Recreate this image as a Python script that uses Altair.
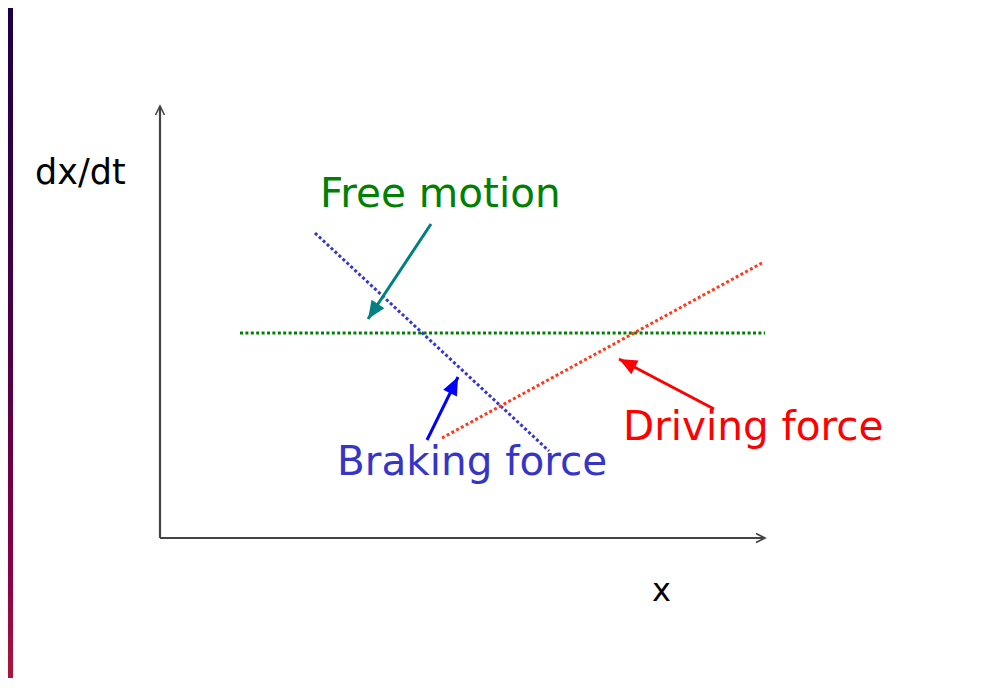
import math
import altair as alt
import pandas as pd

# ---- data (diagram units; origin = axes origin) ----
x_axis = {"x": [0.0, 12.1], "y": [0.0, 0.0]}
y_axis = {"x": [0.0, 0.0], "y": [0.0, 8.64]}

free_motion_line = {"x": [1.6, 12.1], "y": [4.1, 4.1]}
braking_line = {"x": [3.1, 7.78], "y": [6.1, 1.74]}
driving_line = {"x": [5.64, 12.04], "y": [2.0, 5.5]}

# arrows: tail -> tip
free_arrow = {"x": [5.42, 4.16], "y": [6.28, 4.38]}
braking_arrow = {"x": [5.34, 5.96], "y": [1.96, 3.22]}
driving_arrow = {"x": [11.08, 9.18], "y": [2.58, 3.58]}

labels = ["dx/dt", "x", "Free motion", "Braking force", "Driving force"]
label_x = [-2.5, 9.84, 3.2, 3.54, 9.26]
label_y = [7.08, -1.26, 6.62, 1.26, 1.96]

# ---- layout ----
W, H = 968, 670
PX = 50.0  # pixels per unit
XDOM = [-152 / PX, (W - 152) / PX]
YDOM = [(-H + 530) / PX, 530 / PX]

X = alt.X("x:Q", scale=alt.Scale(domain=XDOM, nice=False, zero=False), axis=None)
Y = alt.Y("y:Q", scale=alt.Scale(domain=YDOM, nice=False, zero=False), axis=None)

HEAD = "M0,0L-0.85,2L0.85,2Z"
CHEVRON = "M-1,2L0,0L1,2"


def seg(d, color, width, dash=None):
    df = pd.DataFrame({"x": d["x"], "y": d["y"], "o": [0, 1]})
    kw = dict(color=color, strokeWidth=width, strokeCap="butt")
    if dash:
        kw["strokeDash"] = dash
    return alt.Chart(df).mark_line(**kw).encode(x=X, y=Y, order="o:O")


def angle_of(d):
    dx = d["x"][1] - d["x"][0]
    dy = d["y"][1] - d["y"][0]
    return math.degrees(math.atan2(dx, dy)) % 360


def head(d, color, size, shape=HEAD, filled=True, sw=0):
    df = pd.DataFrame({"x": [d["x"][1]], "y": [d["y"][1]]})
    return alt.Chart(df).mark_point(
        shape=shape, filled=filled, size=size, angle=angle_of(d),
        color=color, opacity=1, strokeWidth=sw if sw else 1.5,
    ).encode(x=X, y=Y)


layers = []

# left slide border (gradient strip)
grad = alt.LinearGradient(
    gradient="linear", x1=0, y1=0, x2=0, y2=1,
    stops=[
        alt.GradientStop(offset=0, color="#1a0046"),
        alt.GradientStop(offset=0.5, color="#4c0046"),
        alt.GradientStop(offset=0.85, color="#8c0045"),
        alt.GradientStop(offset=1, color="#a8183a"),
    ],
)
layers.append(
    alt.Chart(pd.DataFrame({"a": [0]})).mark_rect(color=grad).encode(
        x=alt.value(0), x2=alt.value(5), y=alt.value(0), y2=alt.value(H)
    )
)

AX = "#444444"
DOT = [3, 2.4]
layers += [
    seg(x_axis, AX, 2.2),
    seg(y_axis, AX, 2.2),
    head(x_axis, AX, 81, shape=CHEVRON, filled=False, sw=1.6),
    head(y_axis, AX, 81, shape=CHEVRON, filled=False, sw=1.6),
    seg(free_motion_line, "#008000", 3, DOT),
    seg(braking_line, "#3535d0", 3, DOT),
    seg(driving_line, "#ff3a1a", 3, DOT),
    seg(free_arrow, "#008080", 3),
    head(free_arrow, "#008080", 324),
    seg(braking_arrow, "#0000ff", 3),
    head(braking_arrow, "#0000ff", 324),
    seg(driving_arrow, "#ff0000", 3),
    head(driving_arrow, "#ff0000", 324),
]

label_color = ["#000000", "#000000", "#008000", "#3535c8", "#ff0000"]
label_size = [35, 32, 40.5, 40.5, 40.5]
for t, lx, ly, c, s in zip(labels, label_x, label_y, label_color, label_size):
    layers.append(
        alt.Chart(pd.DataFrame({"x": [lx], "y": [ly], "t": [t]}))
        .mark_text(align="left", baseline="alphabetic", font="DejaVu Sans",
                   fontSize=s, color=c)
        .encode(x=X, y=Y, text="t:N")
    )

chart = (
    alt.layer(*layers)
    .properties(width=W, height=H, padding=0, background="white",
                autosize=alt.AutoSizeParams(type="fit", contains="padding"))
    .configure_view(stroke=None)
)

chart.save("out.html", embed_options={"renderer": "svg", "actions": False})
